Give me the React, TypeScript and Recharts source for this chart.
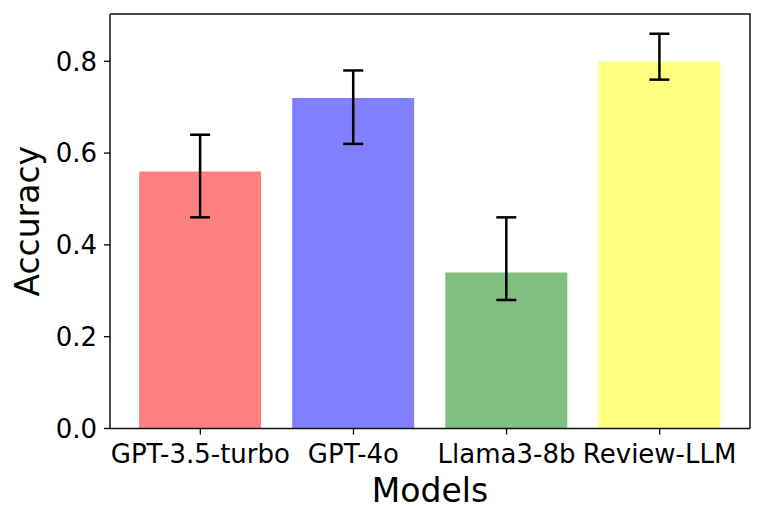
import { Bar, BarChart, Cell, ErrorBar, XAxis, YAxis, usePlotArea } from "recharts";

const models = ["GPT-3.5-turbo", "GPT-4o", "Llama3-8b", "Review-LLM"];
const accuracy = [0.56, 0.72, 0.34, 0.8];
const errLow = [0.46, 0.62, 0.28, 0.76];
const errHigh = [0.64, 0.78, 0.46, 0.86];
const colors = ["#ff8080", "#8080ff", "#80bf80", "#ffff80"];
const yTicks = [0, 0.2, 0.4, 0.6, 0.8];

const data = models.map((m, i) => ({
  model: m,
  acc: accuracy[i],
  err: [accuracy[i] - errLow[i], errHigh[i] - accuracy[i]],
}));

const font = "'DejaVu Sans', sans-serif";
const spine = { stroke: "#111", strokeWidth: 1.5 };
const tickStyle = { fill: "#000", fontSize: 26, fontFamily: font };

// top + right spines, matplotlib style box
function Frame() {
  const area = usePlotArea();
  if (!area) return null;
  const { x, y, width, height } = area;
  return (
    <path d={`M${x},${y}H${x + width}V${y + height}`} fill="none" stroke="#111" strokeWidth={1.5} />
  );
}

export default function App() {
  return (
    <BarChart width={756} height={515} data={data} barCategoryGap="10%"
      margin={{ top: 6, right: 14, bottom: 0, left: 0 }}>
      <XAxis dataKey="model" height={94.5} padding={{ left: 13.8, right: 13.8 }}
        axisLine={spine} tickLine={{ stroke: "#000", strokeWidth: 1.3 }} tickSize={6} tickMargin={10}
        tick={tickStyle} interval={0}
        label={{ value: "Models", position: "insideBottom", offset: 21,
          style: { fill: "#000", fontSize: 33, fontFamily: font } }} />
      <YAxis type="number" domain={[0, 0.903]} ticks={yTicks} width={102}
        tickFormatter={(v: number) => v.toFixed(1)}
        axisLine={spine} tickLine={{ stroke: "#000", strokeWidth: 1.3 }} tickSize={6} tickMargin={7}
        tick={tickStyle}
        label={{ value: "Accuracy", position: "insideLeft", angle: -90, offset: 19,
          style: { fill: "#000", fontSize: 33, fontFamily: font, textAnchor: "middle" } }} />
      <Bar dataKey="acc" isAnimationActive={false}>
        {data.map((d, i) => <Cell key={d.model} fill={colors[i]} />)}
        <ErrorBar dataKey="err" direction="y" width={10} stroke="#000" strokeWidth={2.5} />
      </Bar>
      <Frame />
    </BarChart>
  );
}
